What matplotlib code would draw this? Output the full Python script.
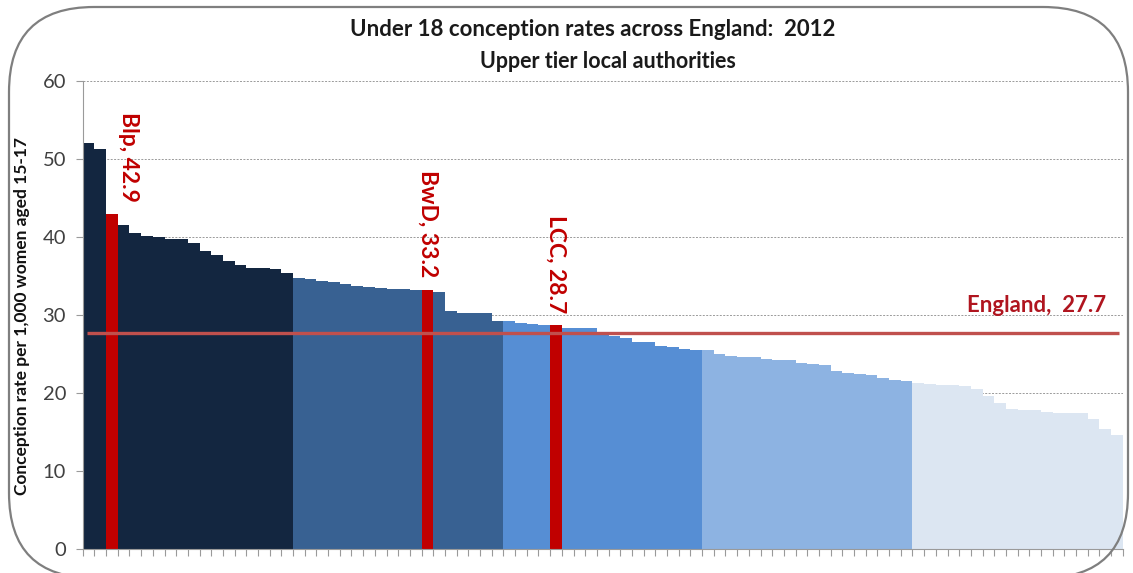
import numpy as np
import matplotlib
matplotlib.use("Agg")
import matplotlib.pyplot as plt
from matplotlib.patches import FancyBboxPatch
from matplotlib.transforms import IdentityTransform

plt.rcParams['font.family'] = ['Lato', 'DejaVu Sans']

# Under 18 conception rates per 1,000 women aged 15-17, ranked, split in quintiles
q1 = [52.0, 51.3, 42.9, 41.5, 40.5, 40.1, 40.0, 39.7, 39.7, 39.3, 38.2, 37.7,
      36.9, 36.4, 36.1, 36.1, 35.9, 35.4]
q2 = [34.8, 34.6, 34.4, 34.2, 34.0, 33.7, 33.6, 33.5, 33.4, 33.3, 33.2, 33.2,
      33.0, 30.5, 30.3, 30.3, 30.3, 29.3]
q3 = [29.3, 29.0, 28.9, 28.8, 28.7, 28.4, 28.4, 28.3, 27.7, 27.3, 27.1, 26.6,
      26.5, 26.1, 25.9, 25.7, 25.5]
q4 = [25.5, 25.0, 24.8, 24.7, 24.6, 24.4, 24.3, 24.2, 23.9, 23.8, 23.6, 22.9,
      22.6, 22.5, 22.3, 22.0, 21.7, 21.5]
q5 = [21.3, 21.2, 21.1, 21.0, 20.9, 20.6, 19.6, 18.8, 18.0, 17.9, 17.8, 17.6,
      17.5, 17.5, 17.4, 16.7, 15.4, 14.6]
quintiles = [q1, q2, q3, q4, q5]
q_colors = ['#132640', '#386192', '#568ED4', '#8DB3E2', '#DCE6F2']

# highlighted authorities (position in ranking)
hl_names = ['Blp', 'BwD', 'LCC']
hl_index = [2, 29, 40]
england = 27.7

values = []
colors = []
for q, c in zip(quintiles, q_colors):
    values += q
    colors += [c] * len(q)
for i in hl_index:
    colors[i] = '#C00000'
x = np.arange(len(values))

fig = plt.figure(figsize=(11.33, 5.73), dpi=100)
ax = fig.add_axes([0.073, 0.0414, 0.918, 0.8172])

ax.bar(x, values, width=1.0, color=colors, linewidth=0, zorder=2)
ax.plot([-0.15, 88.2], [england, england], color='#C0504D', lw=2.4,
        solid_capstyle='butt', zorder=3)

ax.set_xlim(-0.5, len(values) - 0.5)
ax.set_ylim(0, 60)
ax.set_yticks(np.arange(0, 61, 10))
ax.set_xticks(np.arange(-0.5, len(values), 1))
ax.set_xticklabels([])
ax.tick_params(axis='x', length=5, color='#9a9a9a', width=0.8)
ax.tick_params(axis='y', length=5, color='#9a9a9a', width=0.8,
               labelsize=14.5, labelcolor='#404040', pad=7)
ax.yaxis.grid(True, linestyle=(0, (2, 1.5)), color='#9a9a9a', lw=0.7)
ax.set_axisbelow(True)
for s in ['top', 'right']:
    ax.spines[s].set_visible(False)
for s in ['left', 'bottom']:
    ax.spines[s].set_color('#9a9a9a')
    ax.spines[s].set_linewidth(0.8)

# labels for the highlighted bars
offs = [1.4, 0.0, 0.0]
for name, i, dx in zip(hl_names, hl_index, offs):
    ax.text(i + dx, values[i] + 1.6, f'{name}, {values[i]}', rotation=270,
            ha='center', va='bottom', color='#C00000', fontsize=16.5,
            fontweight='bold', zorder=4)
ax.text(87.1, 29.9, f'England,  {england}', ha='right', va='bottom',
        color='#B0151F', fontsize=16, fontweight='bold', zorder=4)

fig.text(593 / 1133, 1 - 30 / 573, 'Under 18 conception rates across England:  2012',
         ha='center', va='center', fontsize=16, fontweight='bold', color='#1a1a1a')
fig.text(608 / 1133, 1 - 62 / 573, 'Upper tier local authorities',
         ha='center', va='center', fontsize=15.5, fontweight='bold', color='#1a1a1a')
fig.text(22 / 1133, 1 - 316 / 573, 'Conception rate per 1,000 women aged 15-17',
         rotation=90, ha='center', va='center', fontsize=12.5, fontweight='bold',
         color='#111111')

# rounded frame around the chart
frame = FancyBboxPatch((9, -5), 1119, 571, boxstyle='round,pad=0,rounding_size=85',
                       transform=IdentityTransform(), fill=False,
                       edgecolor='#7f7f7f', lw=1.6)
fig.patches.append(frame)

fig.savefig('out.png', dpi=100)
